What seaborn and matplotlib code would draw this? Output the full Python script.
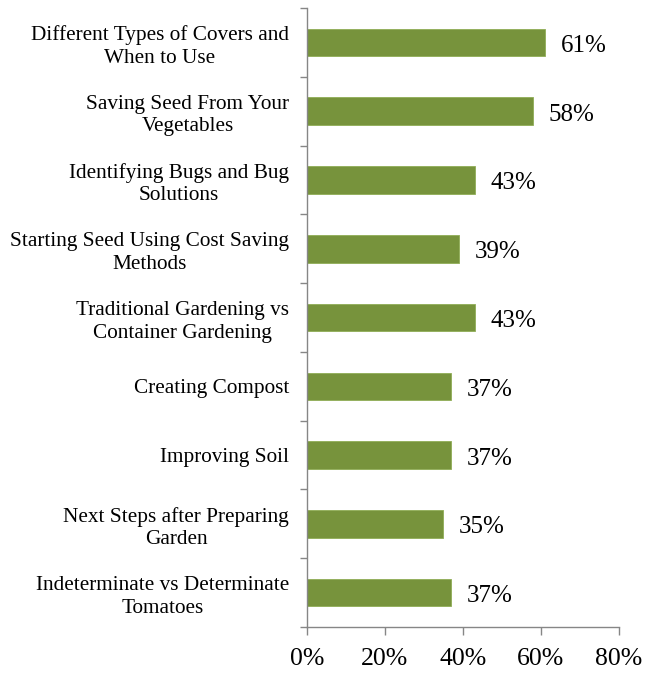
import pandas as pd
import matplotlib
matplotlib.use('Agg')
import matplotlib.pyplot as plt
import seaborn as sns
import numpy as np

# Data
topics = ["Different Types of Covers and\nWhen to Use",
          "Saving Seed From Your\nVegetables",
          "Identifying Bugs and Bug\nSolutions",
          "Starting Seed Using Cost Saving\nMethods",
          "Traditional Gardening vs\nContainer Gardening",
          "Creating Compost",
          "Improving Soil",
          "Next Steps after Preparing\nGarden",
          "Indeterminate vs Determinate\nTomatoes"]
shares = [61, 58, 43, 39, 43, 37, 37, 35, 37]
x_ticks = [0, 20, 40, 60, 80]

df = pd.DataFrame({"Topic": topics, "Share": shares})

sns.set_style("white")
plt.rcParams['font.family'] = ['Liberation Serif', 'DejaVu Serif']

fig = plt.figure(figsize=(6.55, 6.73), dpi=100)
ax = fig.add_axes([0.4687, 0.0683, 0.4763, 0.9197])

sns.barplot(data=df, x="Share", y="Topic", orient="h", color="#77933C",
            saturation=1, width=0.4, edgecolor="#8FAD56", linewidth=0.6, ax=ax)

for i, v in enumerate(shares):
    ax.text(v + 4, i + 0.05, f"{v}%", va="center", ha="left",
            fontsize=18, color="black")

ax.set_xlim(0, 80)
ax.set_ylim(len(topics) - 0.5, -0.5)
ax.set_xticks(x_ticks)
ax.set_xticklabels([f"{t}%" for t in x_ticks], fontsize=18.5, color="black")
ax.tick_params(axis="y", which="major", labelsize=15.3, labelcolor="black",
               length=0, pad=13)
for lbl in ax.get_yticklabels():
    lbl.set_ha("right")
    lbl.set_multialignment("center")
    lbl.set_linespacing(1.25)
ax.set_yticks(np.arange(-0.5, len(topics), 1), minor=True)
ax.tick_params(axis="y", which="minor", left=True, length=5, width=1,
               color="#868686", direction="out")
ax.tick_params(axis="x", which="major", bottom=True, length=6, width=1,
               color="#868686", direction="out", pad=9)
ax.set_xlabel("")
ax.set_ylabel("")

for side in ["top", "right"]:
    ax.spines[side].set_visible(False)
for side in ["left", "bottom"]:
    ax.spines[side].set_color("#868686")
    ax.spines[side].set_linewidth(1)

fig.savefig("out.png", dpi=100)
plt.close(fig)
